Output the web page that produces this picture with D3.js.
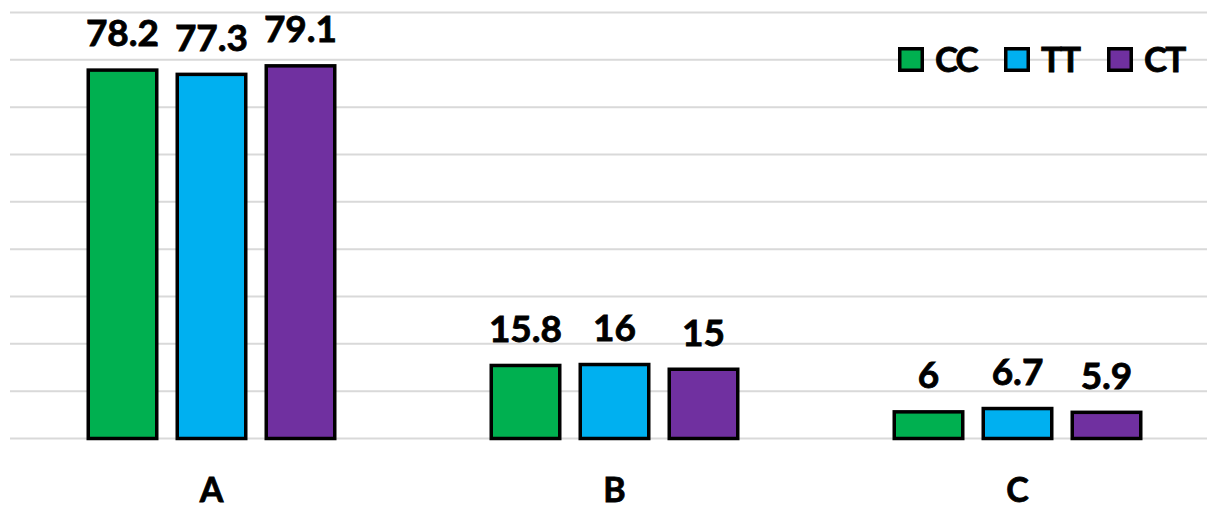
<!DOCTYPE html>
<html>
<head>
<meta charset="utf-8">
<script src="https://cdn.jsdelivr.net/npm/d3@7"></script>
<style>
  html, body { margin: 0; padding: 0; background: #fff; }
  svg { display: block; }
  text { font-family: Lato, "Open Sans", sans-serif; font-weight: 700; fill: #000; stroke: #000; stroke-width: 0.8px; }
</style>
</head>
<body>
<svg id="chart" width="1207" height="509"></svg>
<script>
// Chart data
const categories = ["A", "B", "C"];
const seriesNames = ["CC", "TT", "CT"];
const seriesColors = ["#00b050", "#00b0f0", "#7030a0"];
const valuesCC = [78.2, 15.8, 6];
const valuesTT = [77.3, 16, 6.7];
const valuesCT = [79.1, 15, 5.9];
const yTicks = [0, 10, 20, 30, 40, 50, 60, 70, 80, 90];

const seriesValues = [valuesCC, valuesTT, valuesCT];

const W = 1207, H = 509;
const plot = { left: 10, right: 1219, top: 12.5, bottom: 438.5 };
const svg = d3.select("#chart");

const x = d3.scaleBand().domain(categories).range([plot.left, plot.right]).paddingInner(0).paddingOuter(0);
const xs = d3.scaleBand().domain(seriesNames)
  .range([76.5, x.bandwidth() - 76.5]).paddingInner(0.191).paddingOuter(0);
const y = d3.scaleLinear().domain([0, 90]).range([plot.bottom, plot.top]);

// Horizontal gridlines
svg.append("g").selectAll("line").data(yTicks).join("line")
  .attr("x1", plot.left).attr("x2", W)
  .attr("y1", d => y(d)).attr("y2", d => y(d))
  .attr("stroke", "#d9d9d9").attr("stroke-width", 2);

const sw = 3.5;
const groups = svg.append("g").selectAll("g").data(categories).join("g")
  .attr("transform", d => `translate(${x(d)},0)`);

const cells = groups.selectAll("g.bar")
  .data((c, ci) => seriesNames.map((s, si) => ({ s, si, v: seriesValues[si][ci] })))
  .join("g").attr("class", "bar");

cells.append("rect")
  .attr("x", d => xs(d.s) + sw / 2)
  .attr("width", xs.bandwidth() - sw)
  .attr("y", d => y(d.v) + sw / 2)
  .attr("height", d => y(0) - y(d.v) - sw / 2)
  .attr("fill", d => seriesColors[d.si])
  .attr("stroke", "#000").attr("stroke-width", sw);

cells.append("text")
  .attr("x", d => xs(d.s) + xs.bandwidth() / 2)
  .attr("y", d => y(d.v) - 22)
  .attr("text-anchor", "middle")
  .attr("font-size", 37)
  .text(d => d.v);

// Category labels
svg.append("g").selectAll("text").data(categories).join("text")
  .attr("x", d => x(d) + x.bandwidth() / 2)
  .attr("y", 502)
  .attr("text-anchor", "middle")
  .attr("font-size", 34)
  .text(d => d);

// Legend
const legendX = [898, 1004, 1107];
const legend = svg.append("g").selectAll("g").data(seriesNames).join("g")
  .attr("transform", (d, i) => `translate(${legendX[i]},47)`);
legend.append("rect")
  .attr("x", sw / 2).attr("y", sw / 2)
  .attr("width", 26 - sw).attr("height", 25 - sw)
  .attr("fill", (d, i) => seriesColors[i])
  .attr("stroke", "#000").attr("stroke-width", sw);
legend.append("text")
  .attr("x", 37).attr("y", 25)
  .attr("font-size", 35)
  .attr("letter-spacing", -2)
  .text(d => d);
</script>
</body>
</html>
